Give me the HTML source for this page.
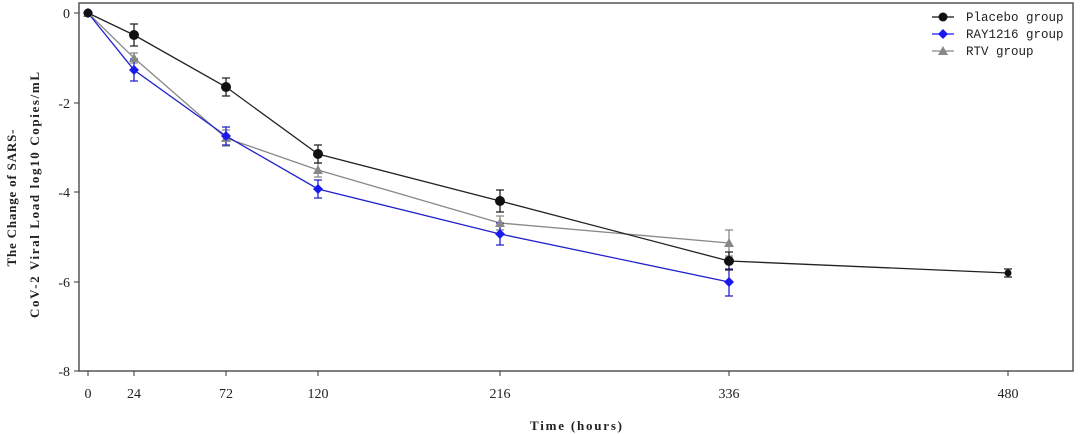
<!DOCTYPE html>
<html><head><meta charset="utf-8"><style>body{margin:0;background:#fff}svg{display:block}text{font-family:"Liberation Serif","Noto Serif CJK SC",serif;fill:#222}</style></head><body>
<svg width="1080" height="434" viewBox="0 0 1080 434">
<rect x="79" y="3" width="994" height="368" fill="none" stroke="#555" stroke-width="1.5"/>
<g stroke="#333" stroke-width="1">
<line x1="74" y1="13" x2="79" y2="13"/><line x1="74" y1="103" x2="79" y2="103"/><line x1="74" y1="192" x2="79" y2="192"/><line x1="74" y1="282" x2="79" y2="282"/><line x1="74" y1="371" x2="79" y2="371"/>
<line x1="88" y1="371" x2="88" y2="376"/><line x1="134" y1="371" x2="134" y2="376"/><line x1="226" y1="371" x2="226" y2="376"/><line x1="318" y1="371" x2="318" y2="376"/><line x1="500" y1="371" x2="500" y2="376"/><line x1="729" y1="371" x2="729" y2="376"/><line x1="1008" y1="371" x2="1008" y2="376"/>
</g>
<g font-size="14" text-anchor="end">
<text x="70" y="18">0</text><text x="70" y="108">-2</text><text x="70" y="197">-4</text><text x="70" y="287">-6</text><text x="70" y="376">-8</text></g>
<g font-size="14" text-anchor="middle">
<text x="88" y="398">0</text><text x="134" y="398">24</text><text x="226" y="398">72</text><text x="318" y="398">120</text><text x="500" y="398">216</text><text x="729" y="398">336</text><text x="1008" y="398">480</text>
<text x="576" y="430" font-weight="bold" font-size="13" textLength="92" lengthAdjust="spacing">Time (hours)</text>
</g>
<g font-size="13" font-weight="bold" text-anchor="middle">
<text transform="translate(16,198) rotate(-90)" textLength="137" lengthAdjust="spacing">The Change of SARS-</text>
<text transform="translate(39,195) rotate(-90)" textLength="246" lengthAdjust="spacing">CoV-2 Viral Load log10 Copies/mL</text>
</g>
<!-- RTV -->
<g stroke="#888" stroke-width="1.3" fill="none">
<polyline points="88,13 134,58 226,138 318,170 500,223 729,243"/>
<path d="M134,53v10M130,53h8M130,63h8 M226,130v16M222,130h8M222,146h8 M318,163v14M314,163h8M314,177h8 M500,216v14M496,216h8M496,230h8 M729,230v26M725,230h8M725,256h8"/>
</g>
<!-- RAY -->
<g stroke="#2222cc" stroke-width="1.3" fill="none">
<polyline points="88,13 134,70 226,136 318,189 500,234 729,282"/>
<path d="M134,59v22M130,59h8M130,81h8 M226,127v18M222,127h8M222,145h8 M318,180v18M314,180h8M314,198h8 M500,223v22M496,223h8M496,245h8 M729,269v27M725,269h8M725,296h8"/>
</g>
<!-- Placebo -->
<g stroke="#222" stroke-width="1.3" fill="none">
<polyline points="88,13 134,35 226,87 318,154 500,201 729,261 1008,273"/>
<path d="M134,24v22M130,24h8M130,46h8 M226,78v18M222,78h8M222,96h8 M318,145v18M314,145h8M314,163h8 M500,190v22M496,190h8M496,212h8 M729,252v18M725,252h8M725,270h8 M1008,269v8M1004,269h8M1004,277h8"/>
</g>
<g fill="#888"><polygon points="88,8 93,17 83,17"/><polygon points="134,53 139,62 129,62"/><polygon points="226,133 231,142 221,142"/><polygon points="318,165 323,174 313,174"/><polygon points="500,218 505,227 495,227"/><polygon points="729,238 734,247 724,247"/></g>
<g fill="#1a1aee"><polygon points="88,8 93,13 88,18 83,13"/><polygon points="134,65 139,70 134,75 129,70"/><polygon points="226,131 231,136 226,141 221,136"/><polygon points="318,184 323,189 318,194 313,189"/><polygon points="500,229 505,234 500,239 495,234"/><polygon points="729,277 734,282 729,287 724,282"/></g>
<g fill="#111"><circle cx="88" cy="13" r="4.5"/><circle cx="134" cy="35" r="5"/><circle cx="226" cy="87" r="5"/><circle cx="318" cy="154" r="5"/><circle cx="500" cy="201" r="5"/><circle cx="729" cy="261" r="5"/><circle cx="1008" cy="273" r="3.5"/></g>
<!-- legend -->
<g stroke-width="1.3">
<line x1="932" y1="17" x2="954" y2="17" stroke="#111"/><circle cx="943" cy="17" r="4.5" fill="#111"/>
<line x1="932" y1="34" x2="954" y2="34" stroke="#1a1aee"/><polygon points="943,29 948,34 943,39 938,34" fill="#1a1aee"/>
<line x1="932" y1="51" x2="954" y2="51" stroke="#888"/><polygon points="943,46 948,55 938,55" fill="#888"/>
</g>
<g font-size="12.5">
<text x="966" y="21" style="font-family:'Liberation Mono',monospace">Placebo group</text>
<text x="966" y="38" style="font-family:'Liberation Mono',monospace">RAY1216 group</text>
<text x="966" y="55" style="font-family:'Liberation Mono',monospace">RTV group</text>
</g>
</svg>
</body></html>
